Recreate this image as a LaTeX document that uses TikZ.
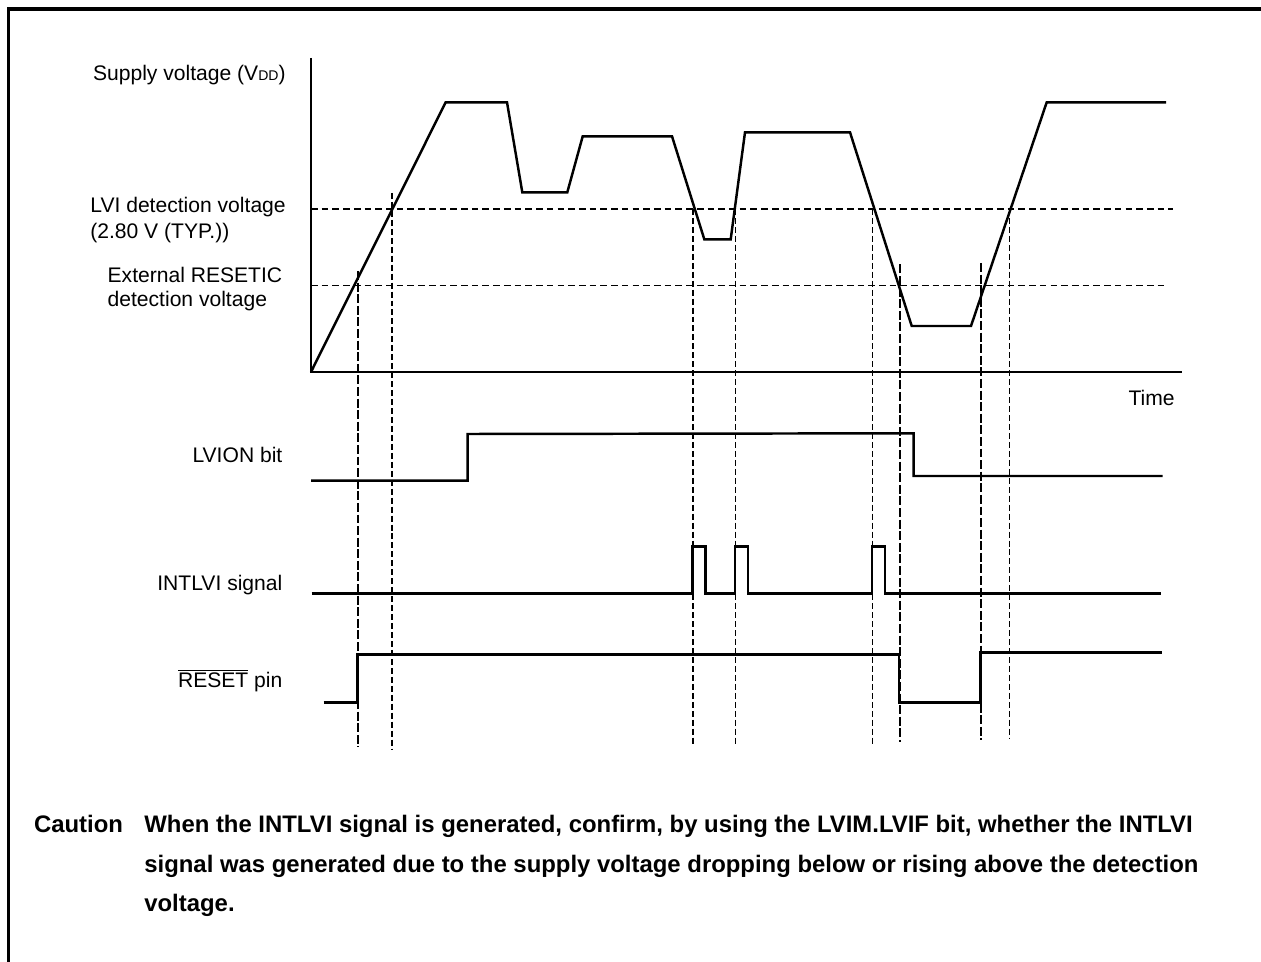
\documentclass[tikz,border=0pt]{standalone}
\usepackage{fontspec}
\setmainfont{Liberation Sans}
\usepackage{tikz}
\usetikzlibrary{positioning}
\tikzset{
  wave/.style={line width=1.4pt, line join=miter},
  level/.style={line width=0.6pt, dash pattern=on 3.8pt off 2.3pt},
  lvimark/.style={line width=0.6pt, dash pattern=on 3.4pt off 1.7pt},
  rstmark/.style={line width=0.6pt, dash pattern=on 5.1pt off 1.5pt},
  lbl/.style={font=\fontsize{12}{14}\selectfont, inner sep=0pt},
  note/.style={font=\fontsize{13.6}{16}\selectfont\bfseries, inner sep=0pt}
}

\begin{document}
\begin{tikzpicture}[x=0.02cm,y=-0.02cm]
\useasboundingbox (0,0) rectangle (1261,962);
\draw[line width=2pt] (8.3,962) -- (8.3,9.2) -- (1261,9.2);
% axes
\draw[wave] (311,58) -- (311,372) -- (1182,372);
\node[lbl,anchor=base east] (time) at (1175,405.7) {Time};
% detection levels
\draw[level] (311,209) -- (1173,209);
\draw[level] (311,285.7) -- (1168,285.7);
% supply voltage
\draw[wave] (311,372) -- (445.7,102.3) -- (507,102.3) -- (522.3,192.3) -- (567.3,192.3)
  -- (582.7,136.3) -- (672,136.3) -- (704.3,239.3) -- (730.7,239.3) -- (745,132.3)
  -- (850,132.3) -- (911.7,326) -- (971,326) -- (1046.7,102.3) -- (1166,102.3);
% timing marks
\foreach \t/\a/\b in {392/193/749, 693/209/745, 735.5/209/745, 872.5/209/745, 1009.5/209/738}
  \draw[lvimark] (\t,\a) -- (\t,\b);
\foreach \t/\a/\b in {358/271/747, 900/264.5/742, 981/263/740}
  \draw[rstmark] (\t,\a) -- (\t,\b);
% LVION bit
\draw[wave] (311,480.7) -- (467.7,480.7) -- (467.7,434) -- (913.7,433.3) -- (913.7,476) -- (1162.7,476);
% INTLVI signal
\draw[wave] (311.7,593.3) -- (692.3,593.3) -- ++(0,-47) -- ++(13,0) -- ++(0,47)
  -- (735,593.3) -- ++(0,-47) -- ++(13,0) -- ++(0,47)
  -- (872,593.3) -- ++(0,-47) -- ++(13,0) -- ++(0,47) -- (1161,593.3);
% RESET pin
\draw[wave] (323.7,702.3) -- (357.3,702.3) -- (357.3,654.3) -- (899,654.3) -- (899,702.3)
  -- (980.3,702.3) -- (980.3,652.3) -- (1161.7,652.3);
% labels
\node[lbl,anchor=base west] (vdd) at (92.7,81) {Supply voltage (V{\fontsize{8}{8}\selectfont DD})};
\node[lbl,anchor=base west] (lvi) at (90,212.3) {LVI detection voltage};
\node[lbl,anchor=base west] (lvityp) at (90,238.3) {(2.80 V (TYP.))};
\node[lbl,anchor=base west] (ext) at (107.3,282.7) {External RESETIC};
\node[lbl,anchor=base west] (extdet) at (107.3,307) {detection voltage};
\node[lbl,anchor=base east] (lvion) at (282.7,462.3) {LVION bit};
\node[lbl,anchor=base east] (intlvi) at (282.7,590) {INTLVI signal};
\node[lbl,anchor=base east] (reset) at (282.7,687.7) {$\overline{\mbox{RESET}}$ pin};
% caution
\node[note,anchor=base east] (caution) at (123.3,832.7) {Caution};
\node[note,anchor=base west] (line1) at (144,832.7) {When the INTLVI signal is generated, confirm, by using the LVIM.LVIF bit, whether the INTLVI};
\node[note,anchor=base west] (line2) at (144,872.5) {signal was generated due to the supply voltage dropping below or rising above the detection};
\node[note,anchor=base west] (line3) at (144,911.7) {voltage.};
\end{tikzpicture}
\end{document}
